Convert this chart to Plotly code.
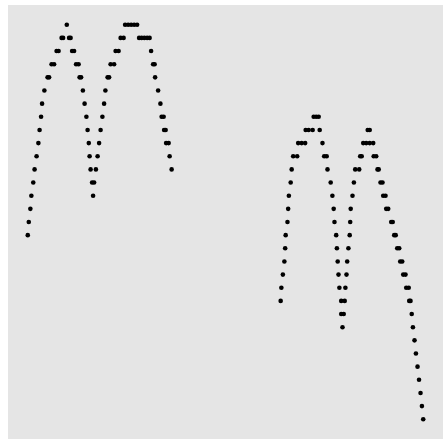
import plotly.graph_objects as go

# Series 1 (left "M"): x positions and integer y levels
x1 = [66.7, 125, 128, 131, 134, 137,
      61.5, 63, 69, 70.5, 120.5, 123.5, 139, 141.5, 144.2, 147, 149.5,
      56.5, 58.5, 72, 74, 115.5, 118.5, 151,
      51.5, 54, 76, 78.5, 110.5, 114, 153, 154.5,
      47.5, 49, 79.5, 81, 107.5, 109, 155,
      44.3, 82.8, 105.3, 158,
      42, 84.5, 104, 160.3,
      41, 86.3, 102.3, 161.5, 163.5,
      39.5, 87.5, 100.5, 164, 165.5,
      38.3, 88.7, 99, 166, 168.5,
      36.5, 89.5, 97.5, 169.5,
      34.5, 90.5, 95.8, 171.5,
      33.2, 92, 94,
      31.3, 93,
      30.3,
      28.7,
      27.7]
y1 = ([30] * 6 + [29] * 11 + [28] * 7 + [27] * 8 + [26] * 7 + [25] * 4 + [24] * 4
      + [23] * 5 + [22] * 5 + [21] * 5 + [20] * 4 + [19] * 4 + [18] * 3 + [17] * 2
      + [16] + [15] + [14])

# Series 2 (right "M")
x2 = [313.5, 316, 318.5,
      305.5, 308.5, 312.5, 319.5, 367.5, 369.5,
      298, 301.5, 305, 322.3, 363, 366, 369.5, 373,
      293, 297, 324, 326.5, 360, 361.5, 373.5, 376,
      291.5, 327.3, 355, 359, 377.3, 378.5,
      290.5, 330.5, 353.7, 380.3, 382.3,
      288.7, 332.2, 352.3, 383, 385.3,
      288, 333.5, 350.5, 386, 388,
      287.3, 334.3, 350, 391, 392.5,
      285.5, 336, 349.5, 394, 395.5,
      285, 336.7, 348.2, 397, 399,
      284.2, 337.5, 347, 400, 402,
      282.7, 338.3, 346.3, 403, 405.3,
      281.2, 339.2, 345.2, 406, 408.5,
      280.5, 341, 344.5, 409, 410.3,
      341, 343.5, 411.5,
      342.3, 412.7,
      414.3,
      415.7,
      417.3,
      418.8,
      420.3,
      421.7,
      423]
y2 = ([23] * 3 + [22] * 6 + [21] * 8 + [20] * 8 + [19] * 6 + [18] * 5 + [17] * 5
      + [16] * 5 + [15] * 5 + [14] * 5 + [13] * 5 + [12] * 5 + [11] * 5 + [10] * 5
      + [9] * 5 + [8] * 3 + [7] * 2 + [6] + [5] + [4] + [3] + [2] + [1] + [0])

fig = go.Figure()
for xs, ys in [(x1, y1), (x2, y2)]:
    fig.add_trace(go.Scatter(x=xs, y=ys, mode="markers",
                             marker=dict(color="black", size=4.6, line=dict(width=0)),
                             showlegend=False, hoverinfo="skip"))

allx = x1 + x2
ally = y1 + y2
xmin, xmax = min(allx), max(allx)
ymin, ymax = min(ally), max(ally)
ex = 0.05 * (xmax - xmin)
ey = 0.05 * (ymax - ymin)

fig.update_layout(
    width=448, height=448,
    margin=dict(l=8, r=5, t=5, b=9),
    paper_bgcolor="white",
    plot_bgcolor="#E5E5E5",
    xaxis=dict(range=[xmin - ex, xmax + ex], showgrid=False, zeroline=False,
               showticklabels=False, ticks="", showline=False),
    yaxis=dict(range=[ymin - ey, ymax + ey], showgrid=False, zeroline=False,
               showticklabels=False, ticks="", showline=False),
)
fig.write_html("out.html")
